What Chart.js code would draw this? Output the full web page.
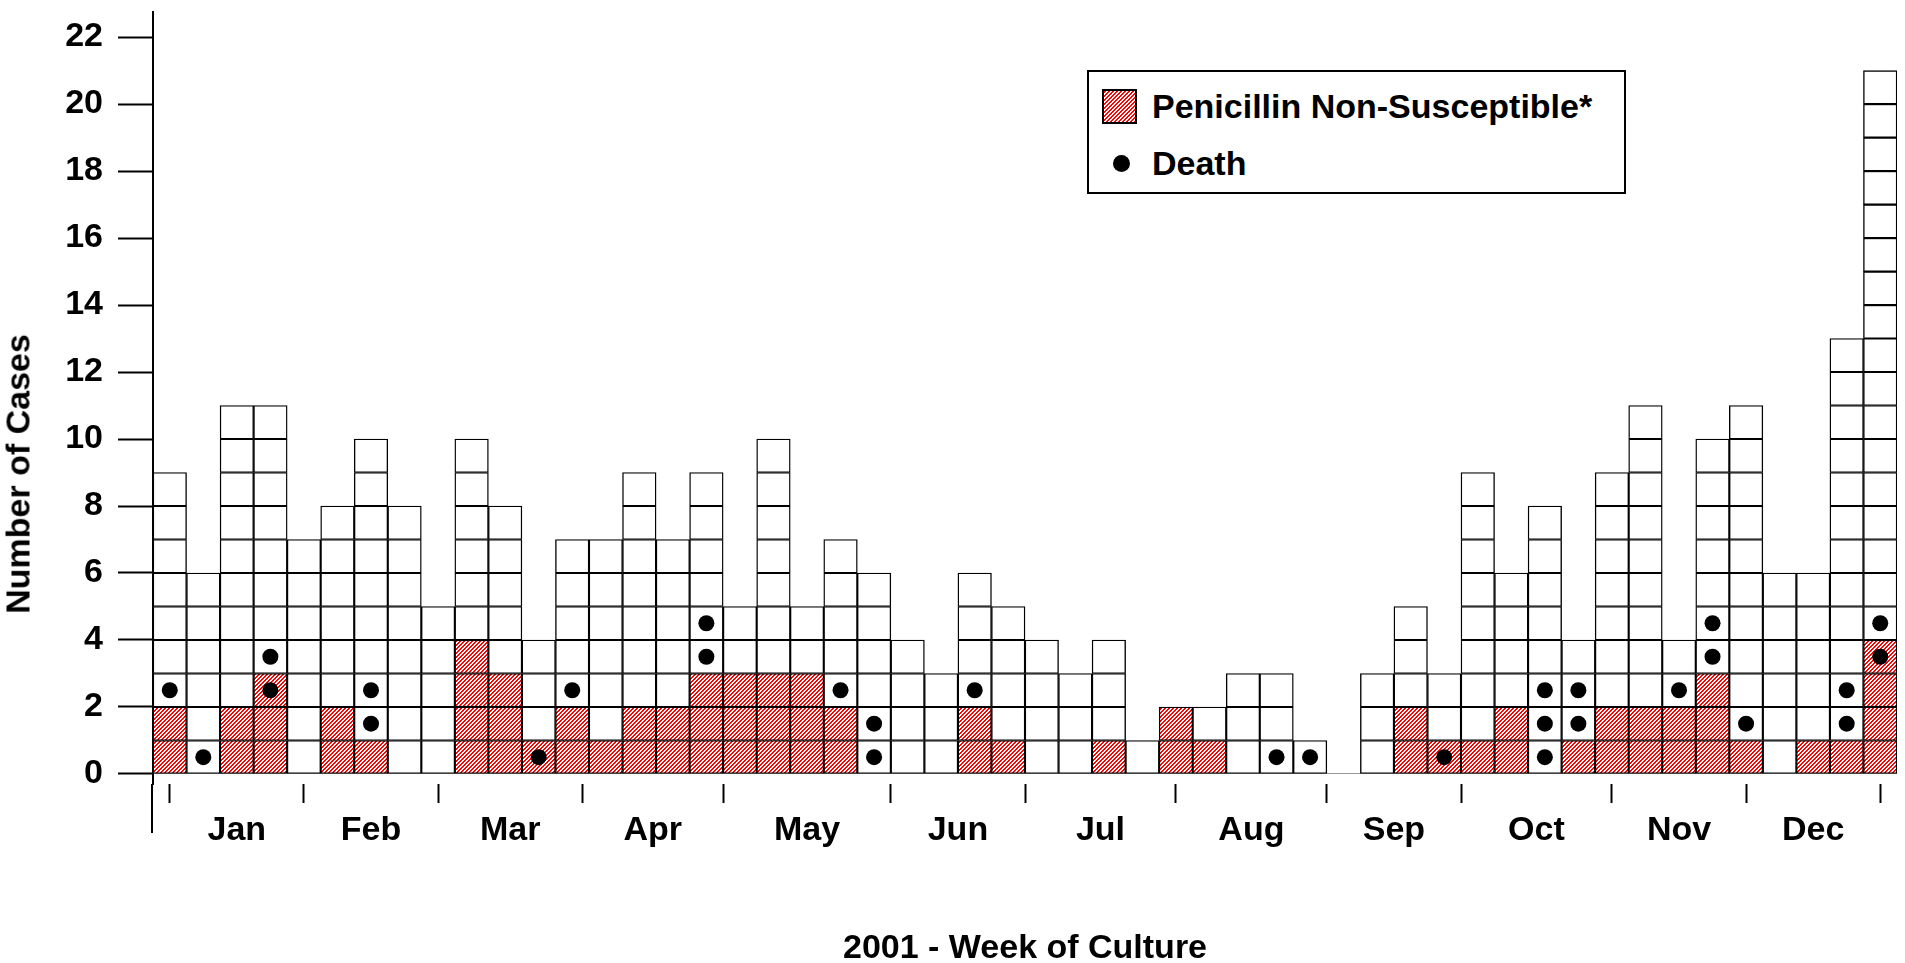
<!DOCTYPE html>
<html lang="en">
<head>
<meta charset="UTF-8" />
<title>Cases by Week of Culture, 2001</title>
<script src="https://cdn.jsdelivr.net/npm/chart.js@4"></script>
<style>
  body { margin: 0; background: #fff; overflow: hidden; }
  #wrap { position: relative; width: 1905px; height: 963px; }
  .txt { font: bold 34px "Liberation Sans", Arial, sans-serif; color: #000; white-space: nowrap; }
  #legend {
    position: absolute; left: 1087px; top: 70px; width: 535px; height: 120px;
    border: 2px solid #000; background: #fff;
  }
  #legend .swatch {
    position: absolute; left: 13px; top: 17px; width: 31px; height: 31px;
    border: 2px solid #000;
    background: repeating-linear-gradient(135deg, #ff0000 0 1.42px, #fff 1.42px 2.84px);
  }
  #legend .dot {
    position: absolute; left: 24px; top: 83px; width: 17px; height: 17px;
    border-radius: 50%; background: #000;
  }
  #legend .lab1 { position: absolute; left: 63px; top: 14px; line-height: 40px; }
  #legend .lab2 { position: absolute; left: 63px; top: 71px; line-height: 40px; }
  #ytitle {
    position: absolute; left: 18px; top: 474px;
    transform: translate(-50%, -50%) rotate(-90deg);
  }
</style>
</head>
<body>
<div id="wrap">
  <canvas id="c" width="1905" height="963"></canvas>
  <div id="ytitle" class="txt">Number of Cases</div>
  <div id="legend" class="txt">
    <div class="swatch"></div><div class="lab1">Penicillin Non-Susceptible*</div>
    <div class="dot"></div><div class="lab2">Death</div>
  </div>
</div>
<script>
// weeks 1..52 of 2001
const weeks = Array.from({ length: 52 }, (_, i) => String(i + 1));
// all cases per week
const totalCases = [9, 6, 11, 11, 7, 8, 10, 8, 5, 10, 8, 4, 7, 7, 9, 7, 9, 5, 10, 5, 7, 6, 4, 3, 6, 5,
                    4, 3, 4, 1, 2, 2, 3, 3, 1, 0, 3, 5, 3, 9, 6, 8, 4, 9, 11, 4, 10, 11, 6, 6, 13, 21];
// penicillin non-susceptible cases per week (bottom boxes)
const penCases = [2, 0, 2, 3, 0, 2, 1, 0, 0, 4, 3, 1, 2, 1, 2, 2, 3, 3, 3, 3, 2, 0, 0, 0, 2, 1,
                  0, 0, 1, 0, 2, 1, 0, 0, 0, 0, 0, 2, 1, 1, 2, 0, 1, 2, 2, 2, 3, 1, 0, 1, 1, 4];
// deaths: week and which box (1 = bottom) the dot sits in
const deathWeek = [1, 2, 4, 4, 7, 7, 12, 13, 17, 17, 21, 22, 22, 25, 34, 35, 39,
                   42, 42, 42, 43, 43, 46, 47, 47, 48, 51, 51, 52, 52];
const deathBox = [3, 1, 3, 4, 2, 3, 1, 3, 4, 5, 3, 1, 2, 3, 1, 1, 1,
                  1, 2, 3, 2, 3, 3, 4, 5, 2, 2, 3, 4, 5];
const yTicks = [0, 2, 4, 6, 8, 10, 12, 14, 16, 18, 20, 22];
const months = ['Jan', 'Feb', 'Mar', 'Apr', 'May', 'Jun', 'Jul', 'Aug', 'Sep', 'Oct', 'Nov', 'Dec'];
// month boundary tick marks, in weeks from start of the axis
const monthTicks = [0.5, 4.5, 8.5, 12.8, 17, 22, 26, 30.5, 35, 39, 43.5, 47.5, 51.5];

const FONT = { family: '"Liberation Sans", Arial, sans-serif', size: 34, weight: 'bold' };

// month labels sit halfway between the boundary ticks
const labelAt = new Map();
months.forEach((m, i) => labelAt.set((monthTicks[i] + monthTicks[i + 1]) / 2, m));
const xTickValues = monthTicks.concat([...labelAt.keys()]).sort((a, b) => a - b);

const ctx = document.getElementById('c').getContext('2d');

// red diagonal hatch
const tile = document.createElement('canvas');
tile.width = 4; tile.height = 4;
const tg = tile.getContext('2d');
tg.fillStyle = '#fff'; tg.fillRect(0, 0, 4, 4);
tg.fillStyle = '#ff0000';
for (let x = 0; x < 4; x++)
  for (let y = 0; y < 4; y++)
    if ((x + y) % 4 < 2) tg.fillRect(x, y, 1, 1);
const hatch = ctx.createPattern(tile, 'repeat');

// one stacked dataset per box level so every case is its own square
const maxCases = Math.max(...totalCases);
const levelSets = [];
for (let L = 1; L <= maxCases; L++) {
  levelSets.push({
    type: 'bar',
    stack: 'cases',
    grouped: false,
    data: totalCases.map(t => (t >= L ? 1 : null)),
    backgroundColor: c => (penCases[c.dataIndex] >= L ? hatch : '#fff'),
    borderColor: '#000',
    borderWidth: 1.4,
    borderSkipped: false,
    barPercentage: 1,
    categoryPercentage: 1,
    xAxisID: 'x',
    yAxisID: 'y'
  });
}

const deaths = {
  type: 'scatter',
  data: deathWeek.map((w, i) => ({ x: w - 0.5, y: deathBox[i] - 0.5 })),
  pointRadius: 8,
  pointBackgroundColor: '#000',
  pointBorderWidth: 0,
  xAxisID: 'xm',
  yAxisID: 'yd',
  order: -1
};

const yAxisLine = {
  id: 'yAxisLine',
  afterDraw(chart) {
    const g = chart.ctx, a = chart.chartArea, x = chart.scales.y.right;
    g.save();
    g.strokeStyle = '#000';
    g.lineWidth = 2;
    g.beginPath();
    g.moveTo(x - 1, a.bottom);
    g.lineTo(x - 1, a.bottom + 49);
    g.stroke();
    g.restore();
  }
};

new Chart(ctx, {
  type: 'bar',
  data: { labels: weeks, datasets: [deaths, ...levelSets] },
  plugins: [yAxisLine],
  options: {
    responsive: false,
    animation: false,
    layout: { padding: { top: 12, right: 7, left: 0, bottom: 0 } },
    plugins: { legend: { display: false }, tooltip: { enabled: false } },
    scales: {
      x: { display: false, stacked: true, offset: true },
      xm: {
        type: 'linear', position: 'bottom', min: 0, max: 52, offset: false,
        afterBuildTicks: s => { s.ticks = xTickValues.map(v => ({ value: v })); },
        afterFit: s => { s.height = 179; s.paddingLeft = 0; s.paddingRight = 0; },
        border: { display: false },
        grid: {
          drawOnChartArea: false, offset: false, tickLength: 19, tickWidth: 2,
          tickColor: c => (labelAt.has(c.tick.value) ? 'rgba(0,0,0,0)' : '#000')
        },
        ticks: {
          autoSkip: false, maxRotation: 0, padding: 7, color: '#000', font: FONT,
          callback: v => labelAt.get(v) || ''
        },
        title: {
          display: true, text: '2001 - Week of Culture', color: '#000',
          font: { ...FONT, lineHeight: 1 }, padding: { top: 0, bottom: -3 }
        }
      },
      y: {
        stacked: true, min: -0.3, max: 22.75,
        afterBuildTicks: s => { s.ticks = yTicks.map(v => ({ value: v })); },
        afterFit: s => { s.width = 153; s.paddingTop = 0; s.paddingBottom = 0; },
        border: { display: true, color: '#000', width: 2 },
        grid: {
          tickLength: 35, tickWidth: 2, tickColor: '#000', lineWidth: 1,
          color: c => (c.tick && c.tick.value === 0 ? '#999' : 'rgba(0,0,0,0)')
        },
        ticks: { padding: 15, color: '#000', font: FONT }
      },
      yd: { display: false, min: -0.3, max: 22.75 }
    }
  }
});
</script>
</body>
</html>
